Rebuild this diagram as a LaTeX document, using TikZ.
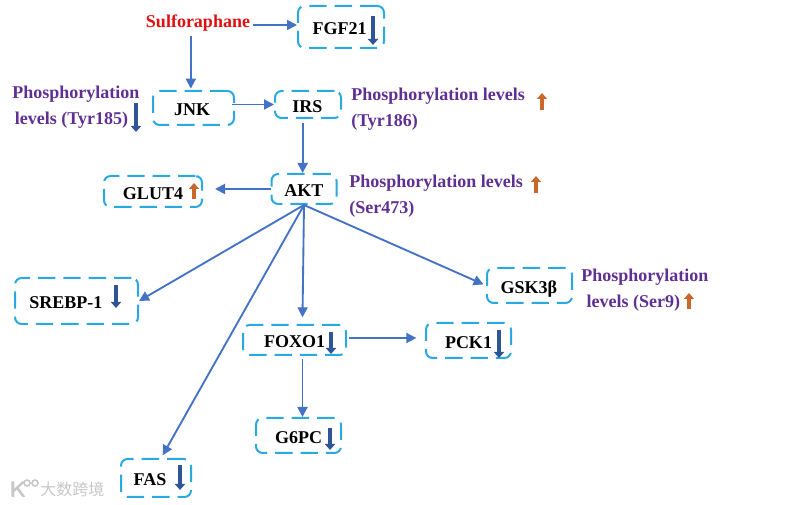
\documentclass[tikz,border=0pt]{standalone}
\usepackage{fontspec}
\setmainfont{Liberation Serif}
\newfontfamily\cjkfont{Noto Sans CJK SC}
\usetikzlibrary{arrows.meta}
\definecolor{boxblue}{HTML}{29A9DF}
\definecolor{linkblue}{HTML}{4472C4}
\definecolor{markblue}{HTML}{2F5597}
\definecolor{markorange}{HTML}{C8682A}
\definecolor{phosphopurple}{HTML}{5F3092}
\definecolor{sulfored}{HTML}{E01010}
\begin{document}
\begin{tikzpicture}[
    x=0.75pt,
    y=-0.75pt,
    gene/.style={
        rectangle,
        draw=boxblue,
        line width=1.5pt,
        dash pattern=on 13pt off 6pt,
        rounded corners=5pt,
        align=center,
        inner sep=0pt,
        text height=12pt,
        text depth=0pt,
        font=\bfseries\fontsize{13.5}{16}\selectfont
    },
    phospho/.style={
        align=left,
        inner sep=0pt,
        text=phosphopurple,
        font=\bfseries\fontsize{13.5}{19.5}\selectfont
    },
    arrow/.style={-{Triangle[length=7.5pt,width=7.5pt]}, line width=1.4pt, draw=linkblue},
    downmark/.style={-{Triangle[length=4.5pt,width=7.5pt]}, line width=3.2pt, draw=markblue},
    upmark/.style={-{Triangle[length=4.5pt,width=7.5pt]}, line width=3.2pt, draw=markorange},
    watermark/.style={
        inner sep=0pt,
        text=black!22,
        font=\cjkfont\fontsize{12}{14}\selectfont
    }
]
\useasboundingbox (0,0) rectangle (804,505);

\node[inner sep=0pt, text=sulfored, font=\bfseries\fontsize{13.5}{16}\selectfont] (sulfo) at (198,23) {Sulforaphane};

\node[gene, minimum width=64.5pt, minimum height=31.5pt] (fgf) at (341,27) {FGF21\hspace*{2pt}};
\node[gene, minimum width=60.75pt, minimum height=25.5pt] (jnk) at (193.5,108) {JNK\hspace*{2pt}};
\node[gene, minimum width=49.5pt, minimum height=20.25pt] (irs) at (308,104.5) {IRS\hspace*{1pt}};
\node[gene, minimum width=48.75pt, minimum height=22.5pt] (akt) at (304,189) {AKT};
\node[gene, minimum width=73.5pt, minimum height=23.25pt] (glut) at (153,191.5) {GLUT4};
\node[gene, minimum width=92.25pt, minimum height=34.5pt] (srebp) at (76.5,301) {SREBP-1\hspace*{16pt}};
\node[gene, minimum width=63.75pt, minimum height=26.25pt] (gsk) at (529.5,285.5) {GSK3β\hspace*{1pt}};
\node[gene, minimum width=77.25pt, minimum height=22.5pt] (foxo) at (294.5,340) {FOXO1};
\node[gene, minimum width=63.75pt, minimum height=26.25pt] (pck) at (468.5,340.5) {PCK1};
\node[gene, minimum width=63.75pt, minimum height=26.25pt] (gsixpc) at (298.5,435.5) {G6PC};
\node[gene, minimum width=52.5pt, minimum height=28.5pt] (fas) at (156,478) {FAS\hspace*{9pt}};

\node[phospho, anchor=west] (jnktext) at (12,107) {Phosphorylation\\\hspace*{2pt}levels (Tyr185)};
\node[phospho, anchor=west] (irstext) at (351,109) {Phosphorylation levels\\(Tyr186)};
\node[phospho, anchor=west] (akttext) at (349,196) {Phosphorylation levels\\(Ser473)};
\node[phospho, anchor=west] (gsktext) at (581,290) {Phosphorylation\\\hspace*{4pt}levels (Ser9)};

\draw[downmark] (373,16) -- (373,45);
\draw[downmark] (136,103) -- (136,132);
\draw[upmark] (194,199) -- (194,183);
\draw[upmark] (542,110) -- (542,93);
\draw[upmark] (536,193) -- (536,176);
\draw[upmark] (689,309) -- (689,293);
\draw[downmark] (499,330) -- (499,358);
\draw[downmark] (116,285) -- (116,308);
\draw[downmark] (331,332) -- (331,354);
\draw[downmark] (330,428) -- (330,450);
\draw[downmark] (180,465) -- (180,490);

\coordinate (sulfoout) at (253,25);
\draw[arrow] (sulfoout) -- (sulfoout -| fgf.west);
\draw[arrow, shorten <=3pt, shorten >=1pt] ([xshift=-2pt]jnk.north |- sulfo.south) -- ([xshift=-2pt]jnk.north);
\draw[arrow] ([xshift=-2pt]jnk.east |- irs.west) -- (irs.west);
\draw[arrow, shorten <=3pt] ([xshift=-1pt]akt.north |- irs.south) -- ([xshift=-1pt]akt.north);
\draw[arrow, shorten >=9pt] (akt.west) -- (akt.west -| glut.east);
\draw[arrow] (akt.south) -- (srebp.east);
\draw[arrow] (akt.south) -- ([xshift=5pt,yshift=2pt]fas.north);
\draw[arrow] (akt.south) -- ([xshift=6pt,yshift=5pt]foxo.north);
\draw[arrow, shorten >=2pt] (akt.south) -- (gsk.west);
\draw[arrow, shorten <=1.5pt, shorten >=6.5pt] ([yshift=1.5pt]foxo.east) -- ([yshift=1.5pt]foxo.east -| pck.west);
\draw[arrow, shorten <=2pt] ([xshift=6pt]foxo.south) -- ([xshift=3pt]gsixpc.north);

\node[watermark, anchor=west] (wmtext) at (40,489) {大数跨境};
\node[watermark, font=\sffamily\bfseries\fontsize{17}{17}\selectfont] (wmlogo) at (18,490) {K};
\draw[black!22, line width=1.2pt] (27,483) circle (3) (35,483) circle (3);

\end{tikzpicture}
\end{document}
